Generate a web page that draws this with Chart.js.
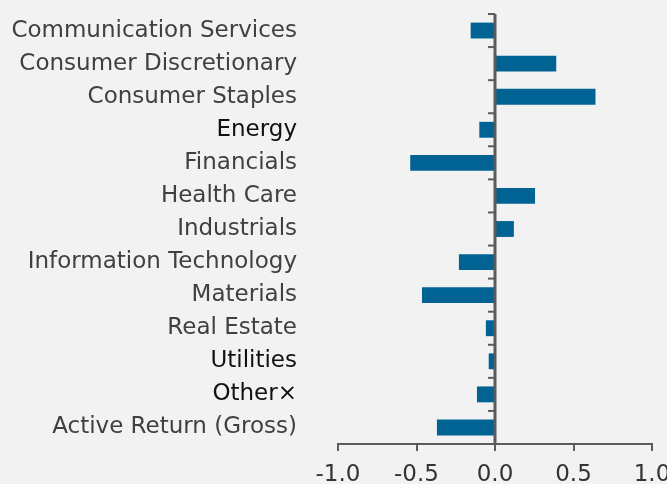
<!DOCTYPE html>
<html>
<head>
<meta charset="utf-8">
<script src="https://cdn.jsdelivr.net/npm/chart.js@4/dist/chart.umd.min.js"></script>
<style>
  html, body { margin: 0; padding: 0; background: #f2f2f2; }
  #wrap { width: 667px; height: 484px; position: relative; }
</style>
</head>
<body>
<div id="wrap"><canvas id="c"></canvas></div>
<script>
const categories = [
  "Communication Services",
  "Consumer Discretionary",
  "Consumer Staples",
  "Energy",
  "Financials",
  "Health Care",
  "Industrials",
  "Information Technology",
  "Materials",
  "Real Estate",
  "Utilities",
  "Other×",
  "Active Return (Gross)"
];
const activeValues = [-0.155, 0.39, 0.64, -0.10, -0.54, 0.255, 0.12, -0.23, -0.465, -0.058, -0.04, -0.115, -0.37];
const darkLabels = ["Energy", "Utilities", "Other×"];
const xMin = -1, xMax = 1, xStep = 0.5;

const axisColor = "#5b5b5b";
const fontFamily = "'DejaVu Sans', sans-serif";

const zeroLinePlugin = {
  id: "zeroLine",
  afterDatasetsDraw(chart) {
    const { ctx, scales: { x, y } } = chart;
    const x0 = x.getPixelForValue(0);
    const top = chart.chartArea.top;
    const bottom = chart.chartArea.bottom;
    ctx.save();
    ctx.strokeStyle = axisColor;
    ctx.lineWidth = 3;
    ctx.beginPath();
    ctx.moveTo(x0, top);
    ctx.lineTo(x0, bottom);
    ctx.stroke();
    ctx.lineWidth = 2;
    const n = categories.length;
    const step = y.getPixelForValue(1) - y.getPixelForValue(0);
    for (let i = 0; i <= n; i++) {
      const yy = y.getPixelForValue(0) - step / 2 + i * step;
      ctx.beginPath();
      ctx.moveTo(x0 - 7, yy);
      ctx.lineTo(x0, yy);
      ctx.stroke();
    }
    ctx.restore();
  }
};

new Chart(document.getElementById("c"), {
  type: "bar",
  data: {
    labels: categories,
    datasets: [{
      data: activeValues,
      backgroundColor: "#006394",
      borderWidth: 0,
      categoryPercentage: 1,
      barPercentage: 0.48
    }]
  },
  options: {
    indexAxis: "y",
    responsive: true,
    maintainAspectRatio: false,
    animation: false,
    layout: { padding: { top: 14, right: 15, bottom: 0, left: 0 } },
    plugins: { legend: { display: false }, tooltip: { enabled: false } },
    scales: {
      x: {
        min: xMin, max: xMax,
        ticks: {
          stepSize: xStep,
          color: "#333333",
          font: { family: fontFamily, size: 23 },
          padding: 10,
          maxRotation: 0,
          callback: v => Number(v).toFixed(1)
        },
        grid: { drawOnChartArea: false, color: axisColor, lineWidth: 2, tickLength: 7 },
        border: { color: axisColor, width: 2 },
        afterFit: s => { s.height = 40; s.paddingLeft = 0; s.paddingRight = 0; }
      },
      y: {
        grid: { display: false, drawTicks: false },
        border: { display: false },
        ticks: {
          padding: 41,
          color: ctx => darkLabels.includes(categories[ctx.index]) ? "#111111" : "#404040",
          font: { family: fontFamily, size: 23 }
        },
        afterFit: s => { s.width = 338; s.paddingTop = 0; s.paddingBottom = 0; }
      }
    }
  },
  plugins: [zeroLinePlugin]
});
</script>
</body>
</html>
